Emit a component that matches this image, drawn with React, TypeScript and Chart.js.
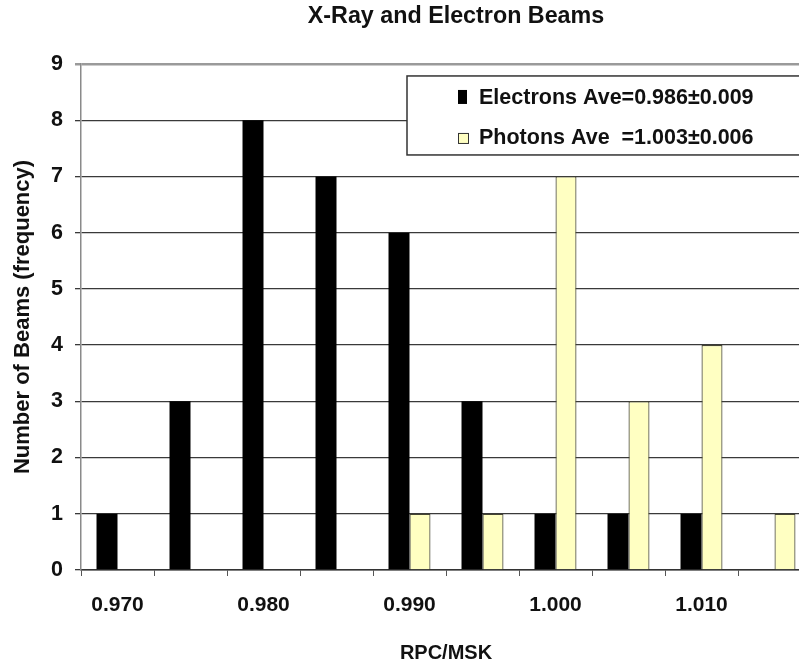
import React, { useEffect, useRef } from "react";
import { Chart, registerables } from "chart.js";

Chart.register(...registerables);

const categories = ["0.970", "0.975", "0.980", "0.985", "0.990", "0.995", "1.000", "1.005", "1.010", "1.015"];
const xTickLabels = ["0.970", "", "0.980", "", "0.990", "", "1.000", "", "1.010", ""];
const electrons = [1, 3, 8, 7, 6, 3, 1, 1, 1, 0];
const photons = [0, 0, 0, 0, 1, 1, 7, 3, 4, 1];
const seriesNames = ["Electrons Ave=0.986\u00b10.009", "Photons Ave  =1.003\u00b10.006"];
const chartTitle = "X-Ray and Electron Beams";
const xTitle = "RPC/MSK";
const yTitle = "Number of Beams (frequency)";
const yMin = 0;
const yMax = 9;

const FONT = '"Liberation Sans", Arial, sans-serif';
const ELECTRON_COLOR = "#000000";
const PHOTON_COLOR = "#FFFFC2";
const PHOTON_BORDER = "#444433";

const legendBox = {
  id: "legendBox",
  afterDatasetsDraw(chart: any) {
    const { ctx, chartArea } = chart;
    const x = chartArea.left + 326;
    const y = chartArea.top + 12;
    const w = 440;
    const h = 79;
    ctx.save();
    ctx.fillStyle = "#ffffff";
    ctx.fillRect(x, y, w, h);
    ctx.strokeStyle = "#333333";
    ctx.lineWidth = 1.5;
    ctx.strokeRect(x, y, w, h);
    ctx.font = `bold 21.5px ${FONT}`;
    ctx.textBaseline = "middle";
    ctx.textAlign = "left";
    chart.data.datasets.forEach((ds: any, i: number) => {
      const cy = y + 21 + i * 40;
      const mx = x + 51;
      if (i === 0) {
        ctx.fillStyle = ds.backgroundColor;
        ctx.fillRect(mx, cy - 7, 9, 14);
      } else {
        ctx.fillStyle = ds.backgroundColor;
        ctx.fillRect(mx, cy - 4, 11, 11);
        ctx.strokeStyle = "#333333";
        ctx.lineWidth = 1;
        ctx.strokeRect(mx + 0.5, cy - 3.5, 10, 10);
      }
      ctx.fillStyle = "#111111";
      ctx.fillText(ds.label, x + 72, cy + 1);
    });
    ctx.restore();
  },
};

export default function App() {
  const ref = useRef<HTMLCanvasElement | null>(null);

  useEffect(() => {
    if (!ref.current) return;
    const chart = new Chart(ref.current, {
      type: "bar",
      data: {
        labels: categories,
        datasets: [
          {
            label: seriesNames[0],
            data: electrons.map((v) => (v === 0 ? null : v)),
            backgroundColor: ELECTRON_COLOR,
            borderColor: ELECTRON_COLOR,
            borderWidth: 0,
            categoryPercentage: 0.575,
            barPercentage: 1.0,
          },
          {
            label: seriesNames[1],
            data: photons.map((v) => (v === 0 ? null : v)),
            backgroundColor: PHOTON_COLOR,
            borderColor: PHOTON_BORDER,
            borderWidth: 1.2,
            categoryPercentage: 0.575,
            barPercentage: 1.0,
          },
        ],
      },
      options: {
        responsive: false,
        animation: false,
        layout: { padding: { left: 0, right: 0, top: 0, bottom: 0 } },
        plugins: {
          legend: { display: false },
          tooltip: { enabled: false },
          title: {
            display: true,
            text: chartTitle,
            color: "#111111",
            font: { family: FONT, size: 23.3, weight: "bold" },
            padding: { top: 3, bottom: 33 },
          },
        },
        scales: {
          x: {
            position: "bottom",
            grid: {
              display: true,
              drawOnChartArea: false,
              drawTicks: true,
              tickLength: 6,
              color: "#555555",
              offset: true,
            },
            border: { display: true, color: "#333333", width: 1.5 },
            ticks: {
              autoSkip: false,
              maxRotation: 0,
              minRotation: 0,
              padding: 17,
              color: "#111111",
              font: { family: FONT, size: 21, weight: "bold" },
              callback: (_v: any, i: number) => xTickLabels[i],
            },
            title: {
              display: true,
              text: xTitle,
              color: "#111111",
              font: { family: FONT, size: 20, weight: "bold" },
              padding: { top: 0, bottom: 0 },
            },
            afterFit: (s: any) => {
              s.height = 95;
            },
          },
          y: {
            position: "left",
            min: yMin,
            max: yMax,
            grid: {
              display: true,
              drawTicks: true,
              tickLength: 6,
              color: (ctx: any) => (ctx.tick && ctx.tick.value === yMax ? "#9a9a9a" : "#3a3a3a"),
              lineWidth: (ctx: any) => (ctx.tick && ctx.tick.value === yMax ? 2.5 : 1.3),
            },
            border: { display: true, color: "#8a8a8a", width: 1.5 },
            ticks: {
              stepSize: 1,
              padding: 12,
              color: "#111111",
              font: { family: FONT, size: 21.5, weight: "bold" },
            },
            title: {
              display: true,
              text: yTitle,
              color: "#111111",
              font: { family: FONT, size: 22, weight: "bold" },
              padding: { top: 10, bottom: 0 },
            },
            afterFit: (s: any) => {
              s.width = 81;
            },
          },
          yRight: {
            position: "right",
            display: true,
            grid: { display: false, drawTicks: false },
            border: { display: false },
            ticks: { display: false },
            afterFit: (s: any) => {
              s.width = 101;
            },
          },
        },
      },
      plugins: [legendBox],
    });
    return () => chart.destroy();
  }, []);

  return (
    <div
      style={{
        position: "fixed",
        left: 0,
        top: 0,
        width: 799,
        height: 665,
        overflow: "hidden",
        background: "#ffffff",
      }}
    >
      <canvas ref={ref} width={912} height={665} style={{ display: "block" }} />
    </div>
  );
}
